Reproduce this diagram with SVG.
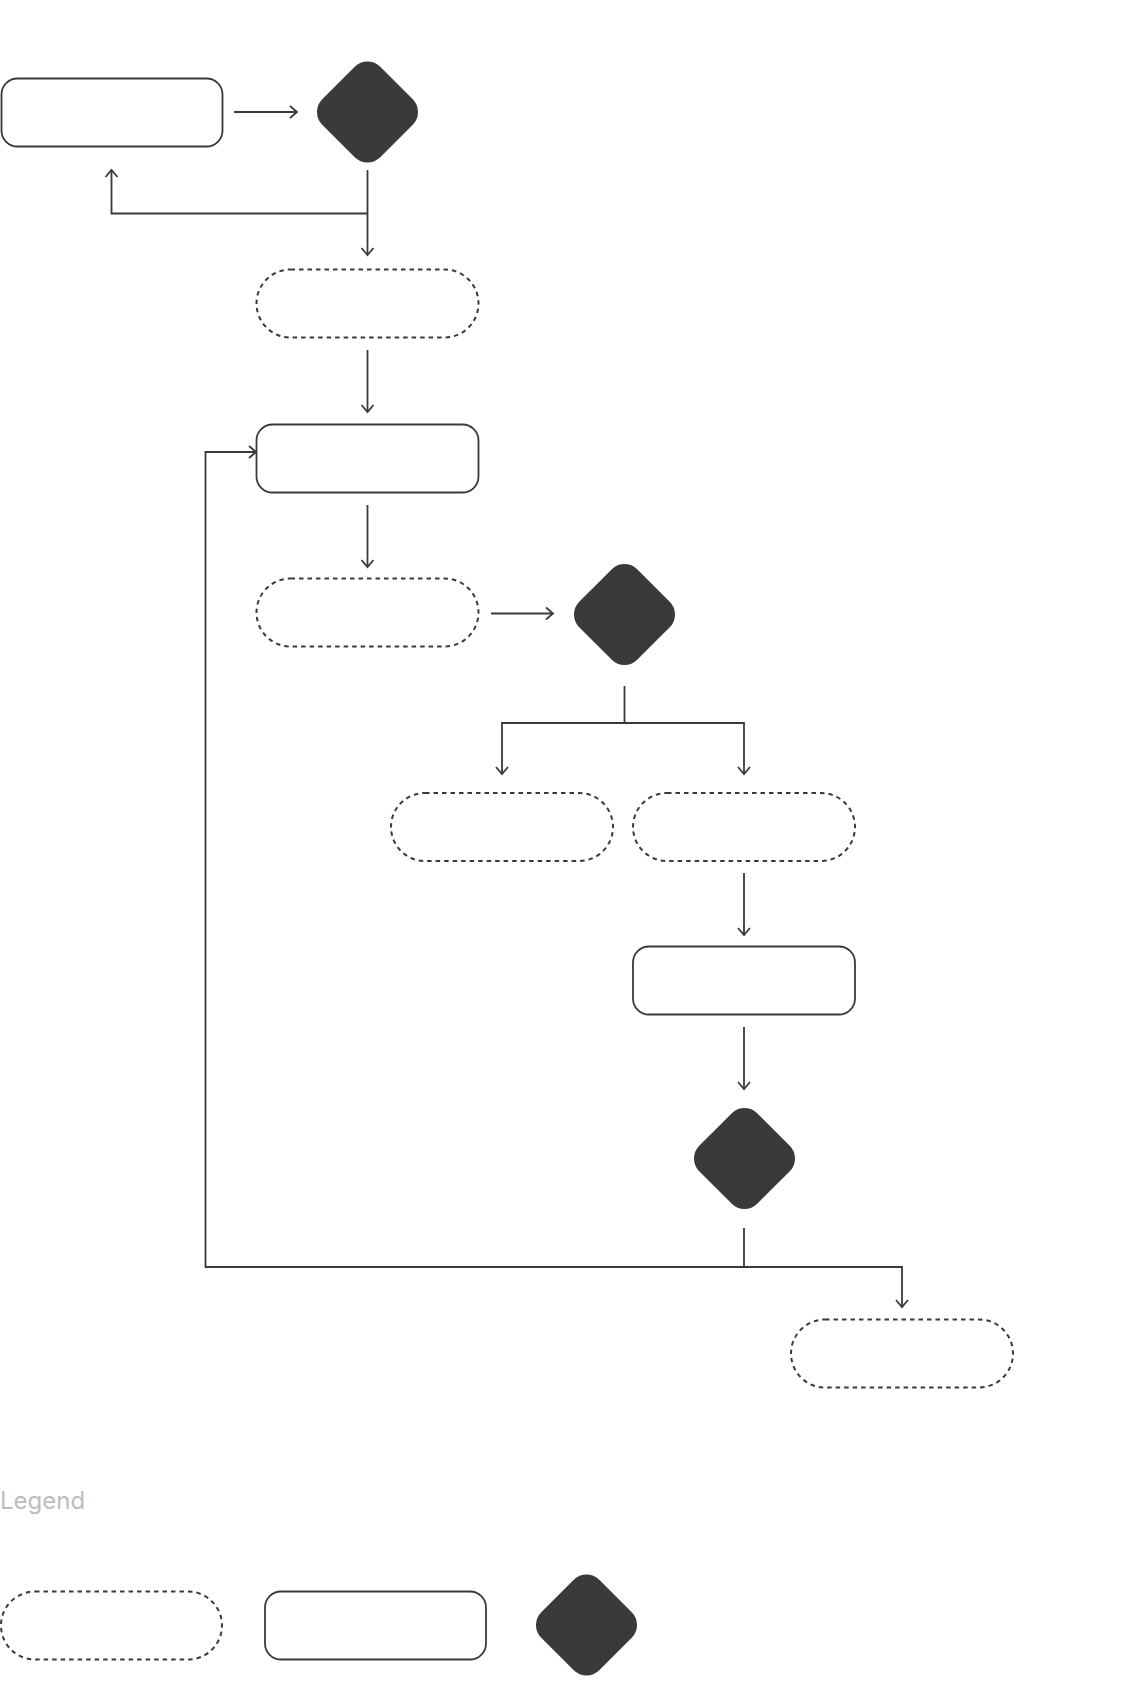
<svg xmlns="http://www.w3.org/2000/svg" width="1130" height="1684" viewBox="0 0 1130 1684">
<defs>
<style>
.solid{fill:#fff;stroke:#3a3a3a;stroke-width:1.8}
.dashed{fill:#fff;stroke:#3a3a3a;stroke-width:2;stroke-dasharray:4.5 4}
.dia{fill:#3a3a3a;stroke:none}
.conn{fill:none;stroke:#3a3a3a;stroke-width:1.8;stroke-linejoin:miter}
.legend{font-family:Inter,"Liberation Sans",sans-serif;font-size:24px;fill:#bdbdbd}
</style>
<marker id="arr" markerUnits="userSpaceOnUse" markerWidth="20" markerHeight="20" viewBox="-10 -10 20 20" refX="0" refY="0" orient="auto">
<path d="M-7,-6 L0,0 L-7,6" fill="none" stroke="#3a3a3a" stroke-width="1.8"/>
</marker>
<rect id="diamondShape" x="-41" y="-41" width="82" height="82" rx="18" ry="18"/>
</defs>
<rect width="1130" height="1684" fill="#fff"/>

<g id="connectors">
<path class="conn" d="M234 112 H297" marker-end="url(#arr)"/>
<path class="conn" d="M367.5 170 V255" marker-end="url(#arr)"/>
<path class="conn" d="M367.5 213.5 H111.5 V170" marker-end="url(#arr)"/>
<path class="conn" d="M367.5 350 V412" marker-end="url(#arr)"/>
<path class="conn" d="M367.5 505 V567" marker-end="url(#arr)"/>
<path class="conn" d="M491 613.5 H553" marker-end="url(#arr)"/>
<path class="conn" d="M624.5 686 V723 H502 V774" marker-end="url(#arr)"/>
<path class="conn" d="M624.5 723 H744 V774" marker-end="url(#arr)"/>
<path class="conn" d="M744 873 V935" marker-end="url(#arr)"/>
<path class="conn" d="M744 1027 V1089" marker-end="url(#arr)"/>
<path class="conn" d="M744 1228 V1267 H205.5 V452 H256" marker-end="url(#arr)"/>
<path class="conn" d="M744 1267 H902 V1307" marker-end="url(#arr)"/>
</g>

<g id="node-1"><rect class="solid" x="1.5" y="78.5" width="221" height="68" rx="16"/></g>
<g id="decision-1"><use href="#diamondShape" class="dia" transform="translate(367.5 112) rotate(45)"/></g>
<g id="node-2"><rect class="dashed" x="256.5" y="269.5" width="222" height="68" rx="34"/></g>
<g id="node-3"><rect class="solid" x="256.5" y="424.5" width="222" height="68" rx="16"/></g>
<g id="node-4"><rect class="dashed" x="256.5" y="578.5" width="222" height="68" rx="34"/></g>
<g id="decision-2"><use href="#diamondShape" class="dia" transform="translate(624.5 614.5) rotate(45)"/></g>
<g id="node-5"><rect class="dashed" x="391" y="793" width="222" height="68" rx="34"/></g>
<g id="node-6"><rect class="dashed" x="633" y="793" width="222" height="68" rx="34"/></g>
<g id="node-7"><rect class="solid" x="633" y="946.5" width="222" height="68" rx="16"/></g>
<g id="decision-3"><use href="#diamondShape" class="dia" transform="translate(744.5 1158.5) rotate(45)"/></g>
<g id="node-8"><rect class="dashed" x="791" y="1319.5" width="222" height="68" rx="34"/></g>

<g id="legend">
<text class="legend" x="0" y="1509">Legend</text>
<g id="legend-dashed"><rect class="dashed" x="1" y="1591.5" width="221" height="68" rx="34"/></g>
<g id="legend-solid"><rect class="solid" x="265" y="1591.5" width="221" height="68" rx="16"/></g>
<g id="legend-decision"><use href="#diamondShape" class="dia" transform="translate(586.5 1625) rotate(45)"/></g>
</g>
</svg>
